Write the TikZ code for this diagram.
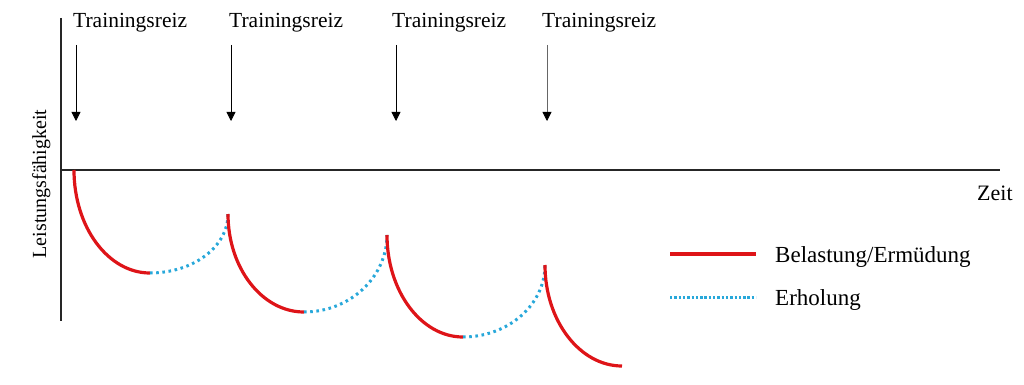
\documentclass[tikz,border=0pt]{standalone}
\usepackage{fontspec}
\setmainfont{Liberation Serif}
\usetikzlibrary{arrows.meta}
\definecolor{lred}{RGB}{222,20,24}
\definecolor{lblue}{RGB}{40,168,218}
\tikzset{
  axis/.style={line width=1.5pt, draw=black!85},
  reiz/.style={anchor=base west, inner sep=0pt, font=\fontsize{21.5}{24}\selectfont},
  reizarrow/.style={line width=0.8pt, -{Triangle[width=9pt,length=9pt,color=black]}},
  load/.style={draw=lred, line width=3.2pt},
  recov/.style={draw=lblue, line width=3pt, dash pattern=on 2.6pt off 3.6pt},
  legtext/.style={anchor=base west, inner sep=0pt, font=\fontsize{23}{26}\selectfont},
}
\begin{document}
\begin{tikzpicture}[x=1pt,y=-1pt]
\useasboundingbox (0,0) rectangle (1024,385);
% axes
\coordinate (ytop) at (61,18);
\coordinate (ybot) at (61,321);
\coordinate (origin) at (61,170);
\coordinate (xend) at (1000,170);
\draw[axis] (ytop) -- (ybot);
\draw[axis] (origin) -- (xend);
\node[anchor=base west, inner sep=0pt, font=\fontsize{22}{24}\selectfont] (zeit) at (977,200) {Zeit};
\node[anchor=base, inner sep=0pt, rotate=90, font=\fontsize{20}{22}\selectfont] (ylab) at (46,184) {Leistungsfähigkeit};
% Trainingsreize
\node[reiz] (r1) at (73,28) {Trainingsreiz};
\node[reiz] (r2) at (229,28) {Trainingsreiz};
\node[reiz] (r3) at (392,28) {Trainingsreiz};
\node[reiz] (r4) at (542,28) {Trainingsreiz};
\coordinate (a1s) at (76,45);  \coordinate (a1e) at (76,121);
\coordinate (a2s) at (231,45); \coordinate (a2e) at (231,121);
\coordinate (a3s) at (396,45); \coordinate (a3e) at (396,121);
\coordinate (a4s) at (547,45); \coordinate (a4e) at (547,121);
\draw[reizarrow] (a1s) -- (a1e);
\draw[reizarrow] (a2s) -- (a2e);
\draw[reizarrow] (a3s) -- (a3e);
\draw[reizarrow, draw=black!60] (a4s) -- (a4e);
% curve points
\coordinate (A) at (74,170);
\coordinate (B) at (150,273);
\coordinate (C) at (228,214);
\coordinate (D) at (304,312);
\coordinate (E) at (387,235);
\coordinate (F) at (463,337);
\coordinate (G) at (545,265);
\coordinate (H) at (622,366);
\draw[load]  (A) .. controls (74,227) and (108,273) .. (B);
\draw[recov] (B) .. controls (193,273) and (228,247) .. (C);
\draw[load]  (C) .. controls (228,268) and (262,312) .. (D);
\draw[recov] (D) .. controls (350,312) and (387,277) .. (E);
\draw[load]  (E) .. controls (387,291) and (421,337) .. (F);
\draw[recov] (F) .. controls (508,337) and (545,305) .. (G);
\draw[load]  (G) .. controls (545,321) and (580,366) .. (H);
% legend
\coordinate (l1s) at (670,254); \coordinate (l1e) at (756,254);
\coordinate (l2s) at (670,297); \coordinate (l2e) at (756,297);
\draw[load] (l1s) -- (l1e);
\draw[draw=lblue, line width=3pt, dash pattern=on 2.4pt off 1.9pt] (l2s) -- (l2e);
\node[legtext] (t1) at (775,262) {Belastung/Ermüdung};
\node[legtext] (t2) at (775,305) {Erholung};
\end{tikzpicture}
\end{document}
